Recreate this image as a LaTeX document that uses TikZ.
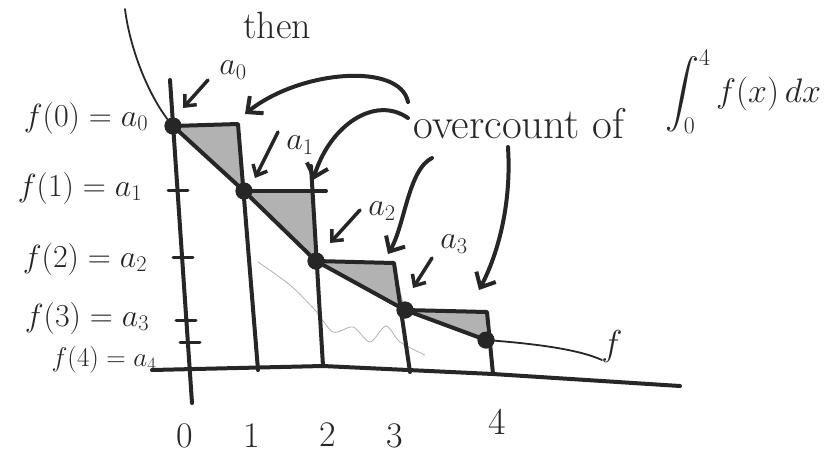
\RequirePackage{fix-cm}
\documentclass[tikz,border=0pt]{standalone}
\usepackage{amsmath,amssymb}
\usepackage{tikz}
\usetikzlibrary{arrows.meta, calc}

\begin{document}
\begin{tikzpicture}[x=1pt, y=-1pt,
    ink/.style={draw=black!85, line cap=round, line join=round},
    axisline/.style={ink, line width=4pt},
    stepline/.style={ink, line width=4pt},
    thincurve/.style={ink, line width=1.8pt},
    dotpt/.style={circle, fill=black!85, minimum size=17pt, inner sep=0pt},
    pointer/.style={ink, line width=3.5pt, -{Straight Barb[length=9pt, width=16pt]}},
    bigpointer/.style={ink, line width=4pt, -{Straight Barb[length=12pt, width=22pt]}},
    lbl/.style={font=\fontsize{32}{36}\selectfont, text=black!85},
    small/.style={font=\fontsize{32}{36}\selectfont, text=black!85},
    tri/.style={fill=gray!60}
]
    \useasboundingbox (0,0) rectangle (825,459);

    % points on f
    \node[dotpt] (p0) at (173,126) {};
    \node[dotpt] (p1) at (244,191) {};
    \node[dotpt] (p2) at (316,261) {};
    \node[dotpt] (p3) at (405,310) {};
    \node[dotpt] (p4) at (486,340) {};

    % corners and feet of the steps
    \coordinate (c1) at (238,124);
    \coordinate (c2) at (312,190);
    \coordinate (c3) at (394,263);
    \coordinate (c4) at (487,312);
    \coordinate (c2x) at (326,191);
    \coordinate (c2t) at (311,166);
    \coordinate (b1) at (258,370);
    \coordinate (b2) at (323,366);
    \coordinate (b3) at (410,372);
    \coordinate (b4) at (493,374);

    % axes
    \coordinate (ya) at (170,80);
    \coordinate (yb) at (192,403);
    \coordinate (xa) at (152,370);
    \coordinate (xb) at (680,386);

    % overcount triangles
    \fill[tri] (p0.center) -- (c1) -- (p1.center) -- cycle;
    \fill[tri] (p1.center) -- (c2) -- (p2.center) -- cycle;
    \fill[tri] (p2.center) -- (c3) -- (p3.center) -- cycle;
    \fill[tri] (p3.center) -- (c4) -- (p4.center) -- cycle;

    % faint scribble under the steps
    \draw[gray!60, line width=0.8pt] plot[smooth] coordinates {(258,262) (290,285) (315,310) (333,332) (353,327) (370,342) (386,326) (400,342) (425,355)};

    \draw[axisline] (ya) -- (yb);
    \draw[axisline] (xa) -- (b2) -- (b4) -- (xb);
    \foreach \x/\y in {178/190, 183/257, 186/320, 190/342}
        \draw[axisline, line width=3pt] (\x-10,\y) -- (\x+10,\y);

    % the steps
    \draw[stepline] (p0.center) -- (c1) -- (b1);
    \draw[stepline] (p1.center) -- (c2x);
    \draw[stepline] (c2t) -- (b2);
    \draw[stepline] (p2.center) -- (c3) -- (b3);
    \draw[stepline] (p3.center) -- (c4) -- (b4);

    % the curve f
    \coordinate (ftop) at (125,9);
    \coordinate (fend) at (602,360);
    \draw[thincurve] (ftop) .. controls (130,50) and (150,100) .. (p0.center);
    \draw[stepline] (p0.center) -- (p1.center) -- (p2.center) -- (p3.center) -- (p4.center);
    \draw[thincurve] (p4.center) .. controls (540,344) and (580,350) .. (fend);

    \node[dotpt] at (p0) {};
    \node[dotpt] at (p1) {};
    \node[dotpt] at (p2) {};
    \node[dotpt] at (p3) {};
    \node[dotpt] at (p4) {};

    % value labels
    \node[lbl] (lf0) at (86,118) {$f(0) = a_0$};
    \node[lbl] (lf1) at (80,188) {$f(1) = a_1$};
    \node[lbl] (lf2) at (85,259) {$f(2) = a_2$};
    \node[lbl] (lf3) at (87,318) {$f(3) = a_3$};
    \node[lbl, font=\fontsize{27}{30}\selectfont] (lf4) at (104,360) {$f(4) = a_4$};

    \node[lbl, font=\fontsize{36}{40}\selectfont] (x0) at (185,436) {0};
    \node[lbl, font=\fontsize{36}{40}\selectfont] (x1) at (252,436) {1};
    \node[lbl, font=\fontsize{36}{40}\selectfont] (x2) at (328,435) {2};
    \node[lbl, font=\fontsize{36}{40}\selectfont] (x3) at (395,436) {3};
    \node[lbl, font=\fontsize{38}{42}\selectfont] (x4) at (497,422) {4};

    \node[lbl, font=\fontsize{36}{40}\selectfont] (fl) at (612,346) {$f$};
    \node[lbl, font=\fontsize{38}{42}\selectfont, inner sep=0pt, anchor=base] (then) at (277,38) {then};

    % small pointers
    \node[small] (la0) at (233,70) {$a_0$};
    \node[small] (la1) at (300,145) {$a_1$};
    \node[small] (la2) at (382,211) {$a_2$};
    \node[small] (la3) at (454,244) {$a_3$};
    \coordinate (s0) at (208,80);   \coordinate (t0) at (183,108);
    \coordinate (s1) at (278,132);  \coordinate (t1) at (255,178);
    \coordinate (s2) at (360,210);  \coordinate (t2) at (330,243);
    \coordinate (s3) at (432,258);  \coordinate (t3) at (413,288);
    \draw[pointer] (s0) -- (t0);
    \draw[pointer] (s1) -- (t1);
    \draw[pointer] (s2) -- (t2);
    \draw[pointer] (s3) -- (t3);

    % overcount note
    \node[lbl, font=\fontsize{43}{47}\selectfont, anchor=base west] (oc) at (410,138) {overcount of};
    \node[lbl, font=\fontsize{34}{38}\selectfont] (intg) at (743,92) {$\displaystyle\int_0^4 f(x)\,dx$};
    \coordinate (o1) at (408,102);  \coordinate (e1) at (245,114);
    \coordinate (o2) at (408,118);  \coordinate (e2) at (313,180);
    \coordinate (o3) at (432,158);  \coordinate (e3) at (388,254);
    \coordinate (o4) at (508,147);  \coordinate (e4) at (479,290);
    \draw[bigpointer] (o1) .. controls (400,62) and (300,70) .. (e1);
    \draw[bigpointer] (o2) .. controls (375,95) and (330,125) .. (e2);
    \draw[bigpointer] (o3) .. controls (408,170) and (405,225) .. (e3);
    \draw[bigpointer] (o4) .. controls (512,210) and (495,260) .. (e4);
\end{tikzpicture}
\end{document}
